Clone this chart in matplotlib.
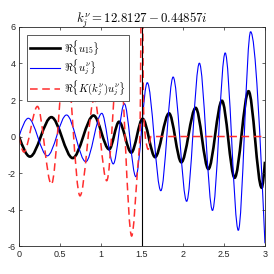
import numpy as np
import matplotlib
matplotlib.use("Agg")
import matplotlib.pyplot as plt
from matplotlib.path import Path
from matplotlib.patches import PathPatch

plt.rcParams['font.family'] = ['Liberation Sans', 'DejaVu Sans']
plt.rcParams['mathtext.fontset'] = 'cm'
plt.rcParams['axes.unicode_minus'] = False

# extrema / key points (x, Re value)
u15_x = [0.0, 0.134, 0.395, 0.655, 0.91, 1.10, 1.22, 1.37, 1.508, 1.66, 1.83, 1.98,
         2.155, 2.31, 2.475, 2.63, 2.80, 2.96, 3.0]
u15_y = [0.0, -1.1, 1.06, -1.18, 1.15, -0.7, 0.81, -0.88, 0.97, -1.13, 1.27, -1.41,
         1.57, -1.78, 1.96, -2.26, 2.48, -2.8, -1.38]

uj_x = [0.0, 0.114, 0.345, 0.58, 0.815, 1.01, 1.15, 1.285, 1.425, 1.565, 1.73, 1.88,
        2.045, 2.2, 2.36, 2.515, 2.675, 2.825, 3.0]
uj_y = [0.0, 1.0, -1.06, 1.18, -1.38, 1.27, -1.5, 1.8, -2.2, 2.95, -2.97, 3.26,
        -3.55, 4.02, -4.05, 4.58, -5.14, 5.74, -5.85]

Ku_x = [0.0, 0.06, 0.225, 0.395, 0.57, 0.744, 0.918, 1.07, 1.22, 1.374, 1.447, 1.475,
        1.5, 1.52, 1.55, 1.575, 1.61, 3.0]
Ku_y = [0.0, -0.85, 1.65, -2.62, 4.5, -3.25, 2.05, -2.42, 4.8, -5.45, -1.74, 0.1,
        12.0, 1.4, -0.3, -0.7, 0.0, 0.0]

title = r'$k_j^{\nu} = 12.8127 - 0.44857i$'
labels = [r'$\Re\{u_{15}\}$', r'$\Re\{u_j^{\nu}\}$', r'$\Re\{K(k_j^{\nu})u_j^{\nu}\}$']
x_split = 1.5


def tangents(x, y):
    # monotone (Fritsch-Carlson) slopes, flat at the extrema
    x = np.asarray(x, float)
    y = np.asarray(y, float)
    h = np.diff(x)
    s = np.diff(y) / h
    d = np.zeros_like(y)
    for i in range(1, len(y) - 1):
        if s[i - 1] * s[i] > 0:
            w1 = 2 * h[i] + h[i - 1]
            w2 = h[i] + 2 * h[i - 1]
            d[i] = (w1 + w2) / (w1 / s[i - 1] + w2 / s[i])
    d[0] = 1.5 * s[0]
    d[-1] = 1.5 * s[-1]
    return d


def smooth_path(x, y):
    d = tangents(x, y)
    verts = [(x[0], y[0])]
    codes = [Path.MOVETO]
    for i in range(len(x) - 1):
        h = x[i + 1] - x[i]
        verts += [(x[i] + h / 3, y[i] + d[i] * h / 3),
                  (x[i + 1] - h / 3, y[i + 1] - d[i + 1] * h / 3),
                  (x[i + 1], y[i + 1])]
        codes += [Path.CURVE4] * 3
    return Path(verts, codes)


fig = plt.figure(figsize=(2.74, 2.74), dpi=100)
ax = fig.add_axes([0.0693, 0.102, 0.8977, 0.7995])

styles = [
    dict(color='k', lw=1.9),
    dict(color='b', lw=0.8),
    dict(color=(1, 0.18, 0.18), lw=1.1, linestyle=(0, (5.0, 3.0))),
]
handles = []
for (xs, ys), st, lab in zip([(u15_x, u15_y), (uj_x, uj_y), (Ku_x, Ku_y)], styles, labels):
    ax.add_patch(PathPatch(smooth_path(xs, ys), fill=False, **st))
    h, = ax.plot([], [], label=lab, **st)
    handles.append(h)

ax.axvline(x_split, color='k', lw=0.8)

ax.set_xlim(0, 3)
ax.set_ylim(-6, 6)
ax.set_xticks([0, 0.5, 1, 1.5, 2, 2.5, 3])
ax.set_xticklabels(['0', '0.5', '1', '1.5', '2', '2.5', '3'])
ax.set_yticks([-6, -4, -2, 0, 2, 4, 6])
ax.tick_params(direction='in', length=2.5, width=0.5, labelsize=6.5, colors='0.15',
               top=True, right=True, pad=2.5)
for sp in ax.spines.values():
    sp.set_color('0.15')
    sp.set_linewidth(0.6)

ax.set_title(title, fontsize=9.2, pad=3)

leg = ax.legend(handles=handles, loc='upper left', bbox_to_anchor=(0.0325, 0.9635),
                borderaxespad=0, fontsize=7.8, fancybox=False, framealpha=1,
                edgecolor='0.25', handlelength=2.8, handletextpad=0.4,
                borderpad=0.25, labelspacing=0.12)
leg.get_frame().set_linewidth(0.6)
leg.set_zorder(5)

fig.savefig('out.png', dpi=100)
